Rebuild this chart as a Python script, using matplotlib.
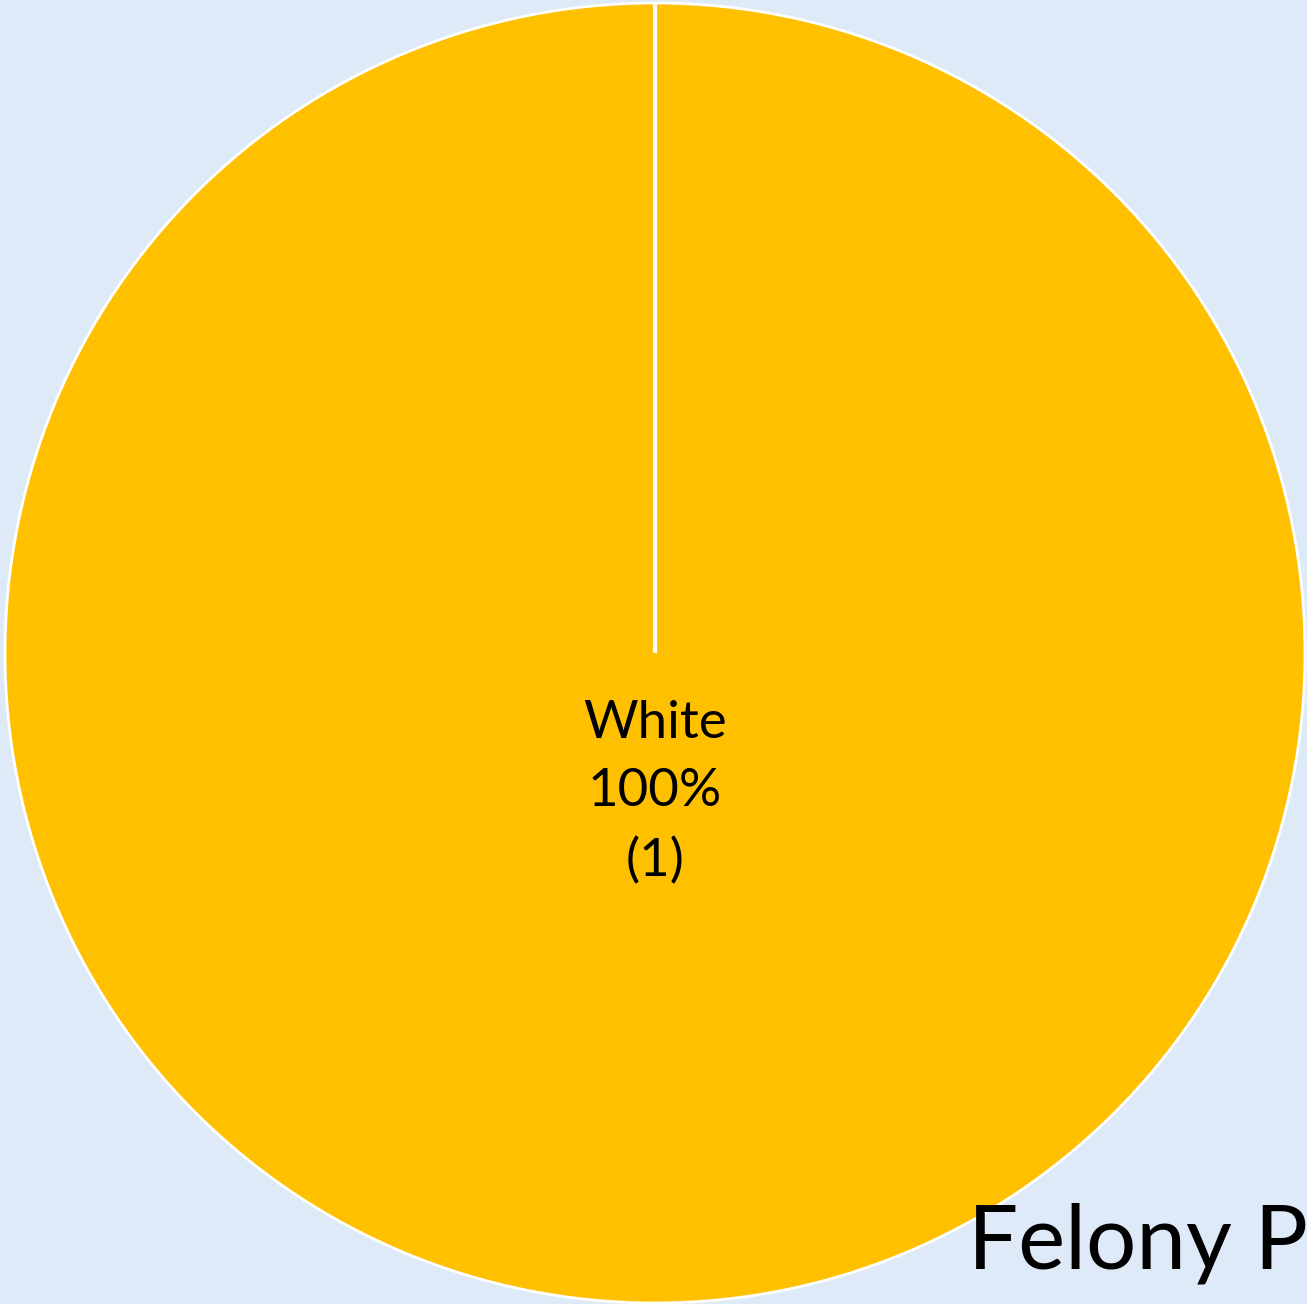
import matplotlib
matplotlib.use("Agg")
import matplotlib.pyplot as plt

categories = ["White"]
counts = [1]
title_text = "Felony P"

W, H, DPI = 1307, 1304, 100
fig = plt.figure(figsize=(W / DPI, H / DPI), dpi=DPI)
bg = "#DEEAF7"
fig.patch.set_facecolor(bg)
ax = fig.add_axes([0, 0, 1, 1])
ax.set_facecolor(bg)

cx, cy, r = 655, 651, 650  # px, cy from bottom
total = sum(counts)
wedges, _ = ax.pie(counts, colors=["#FFC000"], startangle=90, counterclock=False,
                   radius=1.0, center=(0, 0),
                   wedgeprops=dict(edgecolor="white", linewidth=2.0))
ax.set_xlim(-cx / r, (W - cx) / r)
ax.set_ylim(-cy / r, (H - cy) / r)
ax.set_aspect("auto")
ax.axis("off")

# radial boundary line at the start angle
ax.plot([0, 0], [0, 1.0], color="white", lw=3.0, solid_capstyle="butt")

for cat, c in zip(categories, counts):
    pct = 100 * c / total
    ax.text(0, -0.215, f"{cat}\n{pct:.0f}%\n({c})", ha="center", va="center",
            fontsize=38, family="Lato", color="black", linespacing=1.55)

fig.text(968 / W, 1 - 1268 / H, title_text, ha="left", va="baseline",
         fontsize=64, family="Lato", color="black")

fig.savefig("out.png", dpi=DPI, facecolor=bg)
